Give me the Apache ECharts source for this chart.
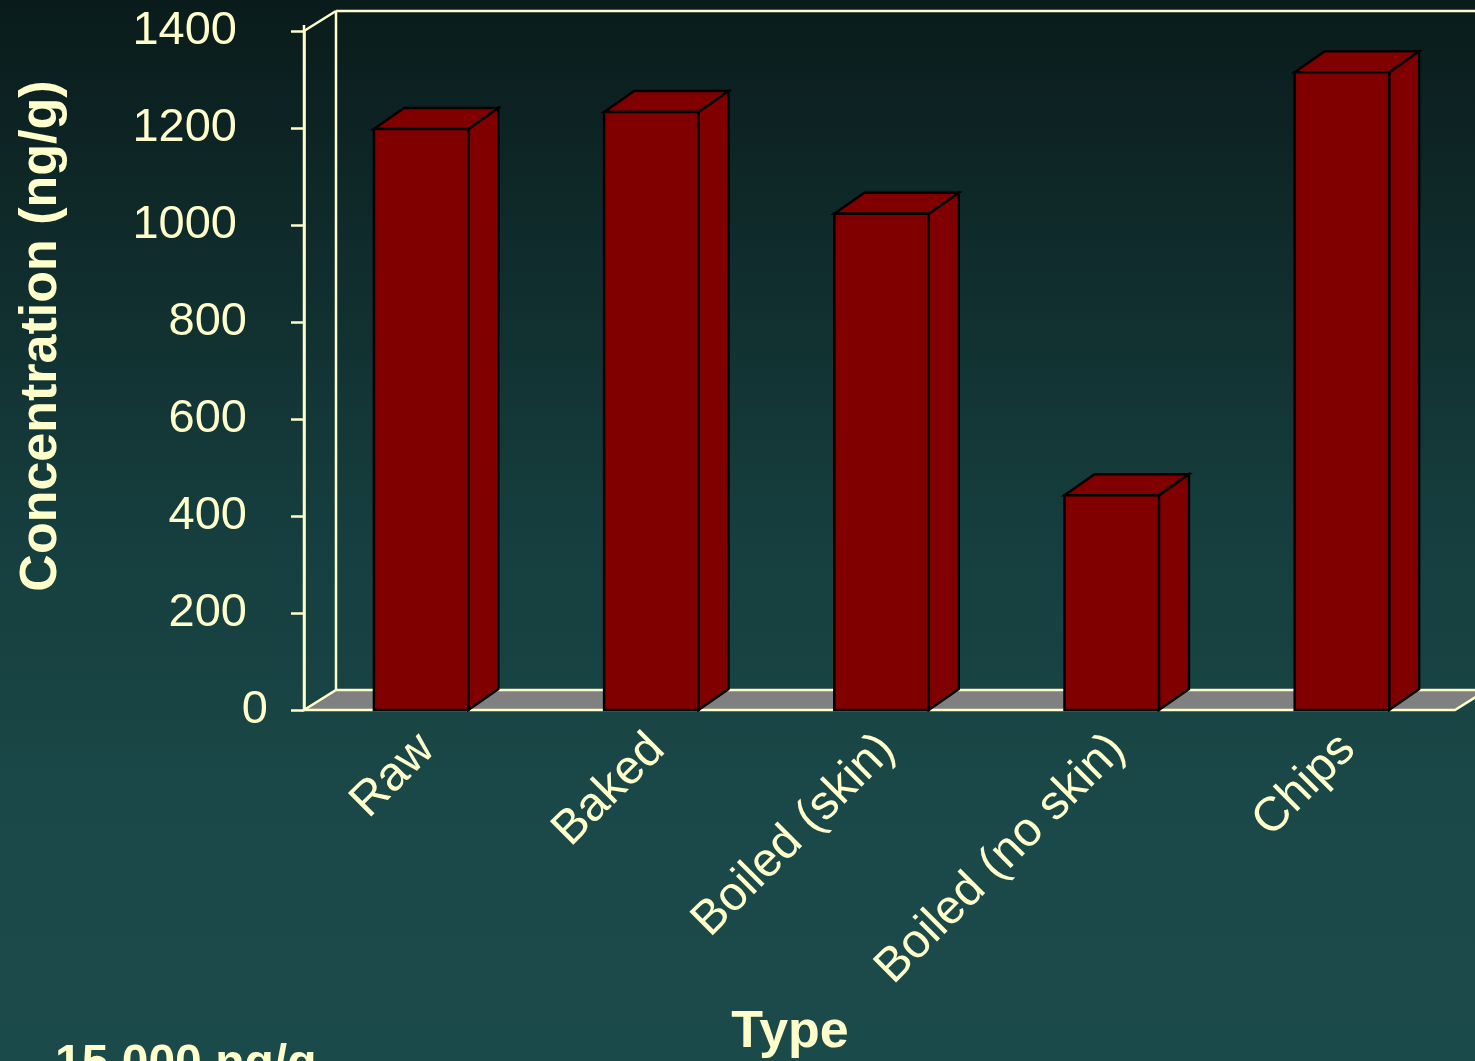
<!DOCTYPE html>
<html>
<head>
<meta charset="utf-8">
<title>Concentration by type</title>
<script src="https://cdn.jsdelivr.net/npm/echarts@6/dist/echarts.min.js"></script>
<style>
  html, body { margin: 0; padding: 0; }
  #chart { width: 1475px; height: 1061px; }
</style>
</head>
<body>
<div id="chart"></div>
<script>
// data
var categories = ['Raw', 'Baked', 'Boiled (skin)', 'Boiled (no skin)', 'Chips'];
var concentration = [1198, 1233, 1023, 443, 1315];
var yTicks = [0, 200, 400, 600, 800, 1000, 1200, 1400];

var cream = '#ffffcc';
var barRed = '#800000';
var font = 'Liberation Sans, Arial, sans-serif';
// 3d depth of the floor / bars
var depthX = 32, depthY = -20;

function drawFrame(params, api) {
    var p0 = api.coord([0, 0]);
    var bw = api.size([1, 0])[0];
    var x0 = p0[0] - bw / 2;
    var x1 = x0 + bw * categories.length;
    var yb = p0[1];
    var yt = api.coord([0, yTicks[yTicks.length - 1]])[1];
    var lineStyle = { stroke: cream, lineWidth: 2.5, fill: null };
    return {
        type: 'group',
        children: [
            {
                type: 'polygon',
                shape: { points: [[x0, yb], [x1, yb], [x1 + depthX, yb + depthY], [x0 + depthX, yb + depthY]] },
                style: { fill: '#808080', stroke: cream, lineWidth: 2.5 }
            },
            { type: 'line', shape: { x1: x0 + depthX, y1: yb + depthY, x2: x0 + depthX, y2: yt + depthY }, style: lineStyle },
            { type: 'line', shape: { x1: x0, y1: yt, x2: x0 + depthX, y2: yt + depthY }, style: lineStyle },
            { type: 'line', shape: { x1: x0 + depthX, y1: yt + depthY, x2: x1 + depthX + 40, y2: yt + depthY }, style: lineStyle },
            { type: 'line', shape: { x1: x0, y1: yt - 6, x2: x0, y2: yb }, style: lineStyle }
        ]
    };
}

function drawBar(params, api) {
    var idx = api.value(0);
    var base = api.coord([idx, 0]);
    var top = api.coord([idx, api.value(1)]);
    var bw = api.size([1, 0])[0];
    var w = bw * 0.41;
    var dx = 30, dy = -21;
    var l = base[0] - w / 2 + 2, r = l + w;
    var y0 = base[1], y1 = top[1];
    var st = { fill: barRed, stroke: '#000', lineWidth: 2.5, lineJoin: 'miter' };
    return {
        type: 'group',
        children: [
            { type: 'polygon', shape: { points: [[r, y0], [r + dx, y0 + dy], [r + dx, y1 + dy], [r, y1]] }, style: st },
            { type: 'polygon', shape: { points: [[l, y1], [r, y1], [r + dx, y1 + dy], [l + dx, y1 + dy]] }, style: st },
            { type: 'rect', shape: { x: l, y: y1, width: w, height: y0 - y1 }, style: st },
            {
                // category label, tilted 45 degrees
                type: 'text', x: base[0] + 8, y: y0 + 32, rotation: Math.PI / 4,
                style: {
                    text: categories[idx], fill: cream, fontSize: 48, fontFamily: font,
                    align: 'right', verticalAlign: 'middle'
                }
            }
        ]
    };
}

var chart = echarts.init(document.getElementById('chart'));
chart.setOption({
    backgroundColor: {
        type: 'linear', x: 0, y: 0, x2: 0, y2: 1,
        colorStops: [
            { offset: 0, color: '#0a1b1b' },
            { offset: 0.5, color: '#163e3e' },
            { offset: 0.8, color: '#1b4949' },
            { offset: 1, color: '#1b4a4a' }
        ]
    },
    animation: false,
    grid: { left: 304, right: 20, top: 31, bottom: 351, outerBoundsMode: 'none', containLabel: false },
    xAxis: {
        type: 'category',
        data: categories,
        axisLine: { show: false },
        axisTick: { show: false },
        axisLabel: { show: false }
    },
    yAxis: {
        type: 'value',
        min: 0, max: 1400, interval: 200,
        axisLine: { show: true, lineStyle: { color: cream, width: 2.5 } },
        axisTick: { show: true, length: 13, lineStyle: { color: cream, width: 2.5 } },
        splitLine: { show: false },
        axisLabel: {
            margin: 36,
            formatter: function (v) {
                var s = String(v);
                return s.length >= 4 ? '{a|' + s + '}' : (s.length === 3 ? '{b|' + s + '}' : '{c|' + s + '}');
            },
            rich: {
                a: { color: cream, fontSize: 47, fontFamily: font, padding: [0, 31, 0, 0] },
                b: { color: cream, fontSize: 47, fontFamily: font, padding: [0, 21, 0, 0] },
                c: { color: cream, fontSize: 47, fontFamily: font }
            }
        }
    },
    graphic: [
        {
            type: 'text', x: 42, y: 336, rotation: Math.PI / 2,
            style: {
                text: 'Concentration (ng/g)', fill: cream, fontSize: 52, fontWeight: 'bold',
                fontFamily: font, align: 'center', verticalAlign: 'middle'
            }
        },
        {
            type: 'text', x: 790, y: 1033,
            style: {
                text: 'Type', fill: cream, fontSize: 52, fontWeight: 'bold',
                fontFamily: font, align: 'center', verticalAlign: 'middle'
            }
        },
        {
            type: 'text', left: 55, top: 1041,
            style: { text: '15,000 ng/g', fill: cream, fontSize: 48, fontWeight: 'bold', fontFamily: font }
        }
    ],
    series: [
        {
            type: 'custom', z: 1, silent: true,
            renderItem: drawFrame,
            data: [[0, 0]]
        },
        {
            type: 'custom', z: 2,
            renderItem: drawBar,
            data: concentration.map(function (v, i) { return [i, v]; })
        }
    ]
});
</script>
</body>
</html>
